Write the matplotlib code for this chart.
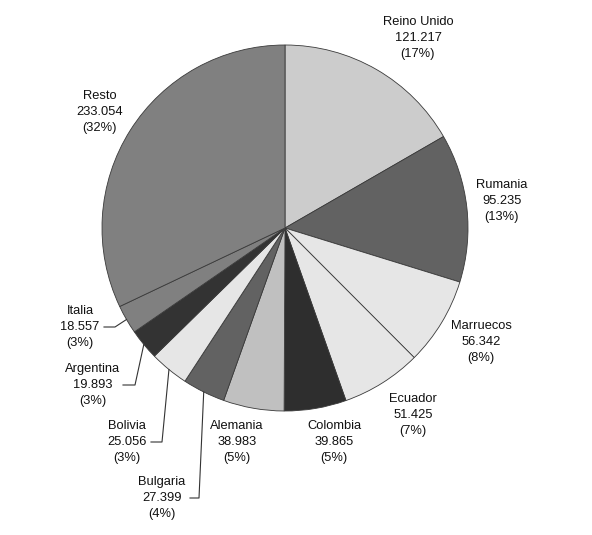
import numpy as np
import matplotlib.pyplot as plt

plt.rcParams['font.family'] = ['Liberation Sans', 'DejaVu Sans']

paises = ['Reino Unido', 'Rumania', 'Marruecos', 'Ecuador', 'Colombia',
          'Alemania', 'Bulgaria', 'Bolivia', 'Argentina', 'Italia', 'Resto']
valores = [121217, 95235, 56342, 51425, 39865,
           38983, 27399, 25056, 19893, 18557, 233054]
colores = ['#cccccc', '#626262', '#e6e6e6', '#e6e6e6', '#2e2e2e',
           '#c0c0c0', '#626262', '#e6e6e6', '#333333', '#808080', '#808080']

# label centres in pixels (x, y from top)
pos_etiquetas = [(418, 38), (502, 201), (481, 342), (413, 415), (334, 442),
                 (237, 442), (162, 498), (127, 442), (93, 385), (80, 327),
                 (100, 112)]
# leader lines: (line start, elbow) in pixels, None = no line
guias = [None, None, None, None, None, None,
         ((190, 498), (199, 498)), ((151, 442), (162, 442)),
         ((123, 385), (135, 385)), ((104, 327), (115, 327)), None]

W, H = 592, 535
cx, cy, R = 285, 228, 183


def to_data(px, py):
    return (px - cx) / R, (cy - py) / R


fig = plt.figure(figsize=(W / 100, H / 100), dpi=100)
ax = fig.add_axes([0, 0, 1, 1])

ax.pie(valores, colors=colores, startangle=90, counterclock=False,
       radius=1.0, wedgeprops=dict(edgecolor='#3a3a3a', linewidth=0.6))

# pie() resets the limits, so fix them afterwards
ax.set_aspect('auto')
ax.set_xlim(-cx / R, (W - cx) / R)
ax.set_ylim(-(H - cy) / R, cy / R)
ax.axis('off')

total = sum(valores)
acum = 0
for nombre, v, (px, py), guia in zip(paises, valores, pos_etiquetas, guias):
    mid = 90 - 360 * (acum + v / 2) / total
    acum += v
    txt = f"{nombre}\n{v / 1000:.3f}\n({round(100 * v / total)}%)"
    tx, ty = to_data(px, py)
    ax.text(tx, ty, txt, ha='center', va='center', fontsize=9.3,
            linespacing=1.4, color='#111111')
    if guia is not None:
        (x0, y0), (x1, y1) = guia
        ex, ey = np.cos(np.radians(mid)), np.sin(np.radians(mid))
        a, b = to_data(x0, y0)
        c, d = to_data(x1, y1)
        ax.plot([a, c, ex], [b, d, ey], color='#333333', lw=0.8)

fig.savefig('out.png', dpi=100)
